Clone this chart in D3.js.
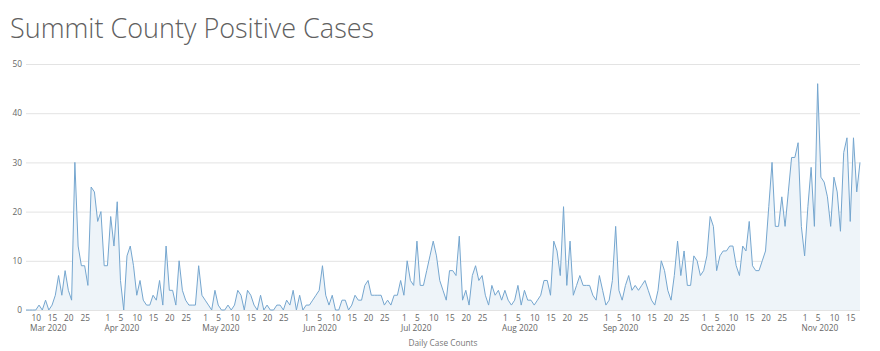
<!DOCTYPE html>
<html>
<head>
<meta charset="utf-8">
<script src="https://cdn.jsdelivr.net/npm/d3@7"></script>
<style>
  body { margin: 0; background: #fff; font-family: "Open Sans", sans-serif; }
</style>
</head>
<body>
<svg id="chart" width="880" height="351"></svg>
<script>
// daily positive cases, Mar 7 2020 .. Nov 18 2020
const startDate = new Date(2020, 2, 7);
const mar = [0, 0, 0, 0, 1, 0, 2, 0, 1, 3, 7, 3, 8, 4, 2, 30, 13, 9, 9, 5, 25, 24, 18, 20, 9];
const apr = [9, 19, 13, 22, 6, 0, 11, 13, 9, 3, 6, 2, 1, 1, 3, 2, 6, 1, 13, 4, 4, 1, 10, 4, 2, 1, 1, 1, 9, 3];
const may = [2, 1, 0, 4, 1, 0, 0, 1, 0, 1, 4, 3, 0, 4, 3, 1, 0, 3, 0, 1, 0, 0, 1, 1, 0, 2, 1, 4, 0, 3, 0];
const jun = [1, 1, 2, 3, 4, 9, 3, 1, 3, 0, 0, 2, 2, 0, 1, 3, 2, 2, 5, 6, 3, 3, 3, 3, 1, 2, 1, 3, 3, 6];
const jul = [3, 10, 6, 5, 14, 5, 5, 8, 11, 14, 11, 6, 4, 2, 8, 8, 7, 15, 2, 4, 1, 7, 9, 6, 7, 3, 1, 5, 3, 4, 2];
const aug = [4, 2, 1, 2, 5, 1, 4, 2, 2, 1, 2, 3, 6, 6, 3, 14, 12, 7, 21, 5, 14, 3, 5, 7, 5, 5, 5, 3, 2, 7, 4];
const sep = [1, 2, 6, 17, 4, 2, 5, 7, 4, 5, 4, 5, 6, 4, 2, 1, 4, 10, 8, 4, 2, 7, 14, 7, 12, 5, 5, 11, 10, 7];
const oct = [8, 11, 19, 17, 8, 11, 12, 12, 13, 13, 9, 7, 13, 12, 18, 9, 8, 8, 10, 12, 21, 30, 17, 17, 23, 17, 24, 31, 31, 34, 17];
const nov = [11, 21, 29, 17, 46, 27, 26, 23, 17, 27, 24, 16, 32, 35, 18, 35, 24, 30];

const monthLabels = ["Mar 2020", "Apr 2020", "May 2020", "Jun 2020", "Jul 2020", "Aug 2020", "Sep 2020", "Oct 2020", "Nov 2020"];
const tickDays = [1, 5, 10, 15, 20, 25];
const yTicks = [0, 10, 20, 30, 40, 50];

const values = [].concat(mar, apr, may, jun, jul, aug, sep, oct, nov);
const data = values.map((v, i) => ({ date: d3.timeDay.offset(startDate, i), value: v }));

const svg = d3.select("#chart");
const plotLeft = 26, plotRight = 860, plotTop = 64, plotBottom = 310;

const x = d3.scaleTime()
  .domain(d3.extent(data, d => d.date))
  .range([plotLeft, plotRight]);

const y = d3.scaleLinear()
  .domain([0, 50])
  .range([plotBottom, plotTop]);

// title
svg.append("text")
  .attr("x", 10)
  .attr("y", 38)
  .attr("fill", "#606060")
  .style("font-size", "27px")
  .style("font-weight", 300)
  .text("Summit County Positive Cases");

// gridlines + y labels
const yAxis = d3.axisLeft(y)
  .tickValues(yTicks)
  .tickSize(-(plotRight - plotLeft))
  .tickPadding(4);

const yG = svg.append("g")
  .attr("transform", `translate(${plotLeft},0)`)
  .call(yAxis);
yG.select(".domain").remove();
yG.selectAll(".tick line").attr("stroke", "#e3e3e3");
yG.selectAll(".tick text")
  .attr("fill", "#666")
  .style("font-family", "Open Sans, sans-serif")
  .style("font-size", "8.3px");

// area + line
const area = d3.area()
  .x(d => x(d.date))
  .y0(y(0))
  .y1(d => y(d.value));

const line = d3.line()
  .x(d => x(d.date))
  .y(d => y(d.value));

svg.append("path")
  .datum(data)
  .attr("fill", "#eef4f9")
  .attr("d", area);

svg.append("path")
  .datum(data)
  .attr("fill", "none")
  .attr("stroke", "#75a6cf")
  .attr("stroke-width", 1)
  .attr("stroke-linejoin", "round")
  .attr("d", line);

// x axis: day ticks
const [d0, d1] = x.domain();
const months = d3.timeMonths(new Date(2020, 2, 1), new Date(2020, 11, 1));
const dayTicks = [];
months.forEach(m => {
  tickDays.forEach(day => {
    const t = new Date(m.getFullYear(), m.getMonth(), day);
    if (t >= d0 && t <= d1) dayTicks.push(t);
  });
});

const xAxis = d3.axisBottom(x)
  .tickValues(dayTicks)
  .tickSize(0)
  .tickPadding(5)
  .tickFormat(d3.timeFormat("%-d"));

const xG = svg.append("g")
  .attr("transform", `translate(0,${plotBottom})`)
  .call(xAxis);
xG.select(".domain").remove();
xG.selectAll(".tick text")
  .attr("fill", "#666")
  .style("font-family", "Open Sans, sans-serif")
  .style("font-size", "8.3px");

// month labels
svg.append("g")
  .selectAll("text")
  .data(months)
  .enter()
  .append("text")
  .attr("x", d => Math.max(x(d) - 3, plotLeft + 4))
  .attr("y", plotBottom + 21)
  .attr("fill", "#666")
  .style("font-size", "8.3px")
  .text((d, i) => monthLabels[i]);

// axis title
svg.append("text")
  .attr("x", (plotLeft + plotRight) / 2)
  .attr("y", plotBottom + 36)
  .attr("text-anchor", "middle")
  .attr("fill", "#777")
  .style("font-size", "8.3px")
  .text("Daily Case Counts");
</script>
</body>
</html>
